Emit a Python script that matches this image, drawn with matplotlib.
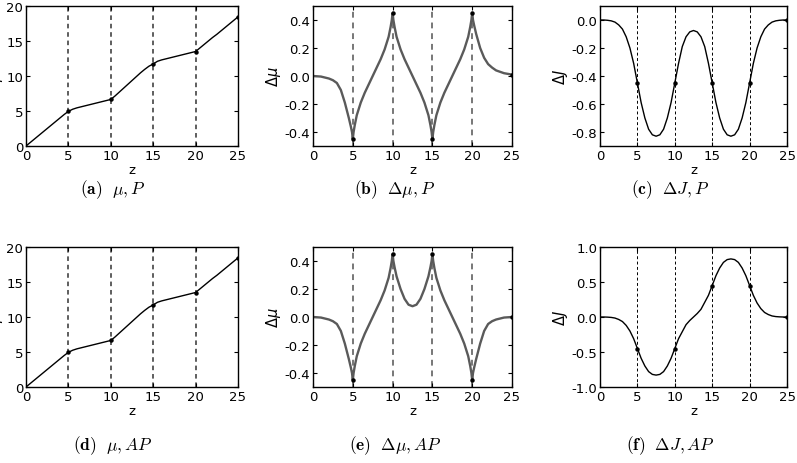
import numpy as np
import matplotlib
matplotlib.use("Agg")
import matplotlib.pyplot as plt

# ---- data ----
# smooth grid (mu and Delta J)
z_s = [0, 0.5, 1, 1.5, 2, 2.5, 3, 3.5, 4, 4.5,
       5, 5.5, 6, 6.5, 7, 7.5, 8, 8.5, 9, 9.5,
       10, 10.5, 11, 11.5, 12, 12.5, 13, 13.5, 14, 14.5,
       15, 15.5, 16, 16.5, 17, 17.5, 18, 18.5, 19, 19.5,
       20, 20.5, 21, 21.5, 22, 22.5, 23, 23.5, 24, 24.5, 25]

mu_P = [0, 0.5, 1.0, 1.5, 2.0, 2.5, 3.0, 3.5, 4.0, 4.5,
        4.95, 5.25, 5.45, 5.6, 5.75, 5.9, 6.05, 6.2, 6.35, 6.5,
        6.65, 7.15, 7.7, 8.25, 8.8, 9.35, 9.9, 10.45, 10.95, 11.4,
        11.72, 12.1, 12.3, 12.45, 12.6, 12.75, 12.9, 13.05, 13.2, 13.35,
        13.5, 14.0, 14.5, 15.0, 15.5, 15.95, 16.45, 16.95, 17.45, 17.95, 18.45]

mu_AP = [0, 0.5, 1.0, 1.5, 2.0, 2.5, 3.0, 3.5, 4.0, 4.5,
         4.95, 5.25, 5.45, 5.6, 5.75, 5.9, 6.05, 6.2, 6.35, 6.5,
         6.65, 7.15, 7.7, 8.25, 8.8, 9.35, 9.9, 10.45, 10.95, 11.4,
         11.72, 12.1, 12.3, 12.45, 12.6, 12.75, 12.9, 13.05, 13.2, 13.35,
         13.5, 14.0, 14.5, 15.0, 15.5, 15.95, 16.45, 16.95, 17.45, 17.95, 18.45]

dJ_P = [0, 0, -0.002, -0.006, -0.015, -0.035, -0.065, -0.12, -0.2, -0.31,
        -0.45, -0.59, -0.7, -0.78, -0.82, -0.83, -0.82, -0.78, -0.7, -0.59,
        -0.45, -0.31, -0.19, -0.12, -0.085, -0.075, -0.085, -0.12, -0.19, -0.31,
        -0.45, -0.59, -0.7, -0.78, -0.82, -0.83, -0.82, -0.78, -0.7, -0.59,
        -0.45, -0.31, -0.2, -0.12, -0.065, -0.035, -0.015, -0.006, -0.002, 0, 0]

dJ_AP = [0, 0, -0.002, -0.006, -0.015, -0.035, -0.065, -0.12, -0.2, -0.31,
         -0.45, -0.59, -0.7, -0.78, -0.82, -0.83, -0.82, -0.78, -0.7, -0.59,
         -0.45, -0.31, -0.21, -0.11, -0.05, 0.0, 0.05, 0.11, 0.21, 0.31,
         0.45, 0.59, 0.7, 0.78, 0.82, 0.83, 0.82, 0.78, 0.7, 0.59,
         0.45, 0.31, 0.2, 0.12, 0.065, 0.035, 0.015, 0.006, 0.002, 0, 0]

# cusp grid (Delta mu)
z_c = [0, 1, 2, 2.5, 3, 3.5, 4, 4.5, 4.75, 4.9,
       5, 5.1, 5.25, 5.5, 6, 6.5, 7, 7.5, 8, 8.5, 9, 9.5, 9.75, 9.9,
       10, 10.1, 10.25, 10.5, 11, 11.5, 12, 12.5, 13, 13.5, 14, 14.5, 14.75, 14.9,
       15, 15.1, 15.25, 15.5, 16, 16.5, 17, 17.5, 18, 18.5, 19, 19.5, 19.75, 19.9,
       20, 20.1, 20.25, 20.5, 21, 21.5, 22, 22.5, 23, 24, 25]

dmu_P = [0, -0.004, -0.018, -0.03, -0.05, -0.1, -0.19, -0.3, -0.36, -0.40,
         -0.45, -0.40, -0.35, -0.28, -0.19, -0.12, -0.06, 0.0, 0.06, 0.12, 0.19, 0.28, 0.35, 0.40,
         0.45, 0.40, 0.35, 0.28, 0.19, 0.12, 0.06, 0.0, -0.06, -0.12, -0.19, -0.28, -0.35, -0.40,
         -0.45, -0.40, -0.35, -0.28, -0.19, -0.12, -0.06, 0.0, 0.06, 0.12, 0.19, 0.28, 0.35, 0.40,
         0.45, 0.40, 0.36, 0.30, 0.20, 0.13, 0.085, 0.06, 0.04, 0.02, 0.01]

dmu_AP = [0, -0.004, -0.018, -0.03, -0.05, -0.1, -0.19, -0.3, -0.36, -0.40,
          -0.45, -0.40, -0.35, -0.28, -0.19, -0.12, -0.06, 0.0, 0.06, 0.12, 0.19, 0.28, 0.35, 0.40,
          0.45, 0.40, 0.355, 0.29, 0.2, 0.13, 0.088, 0.077, 0.088, 0.13, 0.2, 0.29, 0.355, 0.40,
          0.45, 0.40, 0.35, 0.28, 0.19, 0.12, 0.06, 0.0, -0.06, -0.12, -0.19, -0.28, -0.35, -0.40,
          -0.45, -0.40, -0.36, -0.30, -0.19, -0.1, -0.05, -0.03, -0.018, -0.004, 0.0]

z_mark = [5, 10, 15, 20, 25]
z_lines = [5, 10, 15, 20]

captions = [r"$\mathbf{(a)}\ \ \mu, P$", r"$\mathbf{(b)}\ \ \Delta\mu, P$", r"$\mathbf{(c)}\ \ \Delta J, P$",
            r"$\mathbf{(d)}\ \ \mu, AP$", r"$\mathbf{(e)}\ \ \Delta\mu, AP$", r"$\mathbf{(f)}\ \ \Delta J, AP$"]

# ---- figure ----
fig = plt.figure(figsize=(7.97, 4.64), dpi=100)
W, H = 797.0, 464.0

cols = [(26, 212), (313, 199), (600, 187)]  # left, width in px
rows = [7, 248]  # top in px
ax_h = 140

panels = [
    (z_s, mu_P, "mu", r"$\mu$"), (z_c, dmu_P, "dmu", r"$\Delta\mu$"), (z_s, dJ_P, "dJ", r"$\Delta J$"),
    (z_s, mu_AP, "mu", r"$\mu$"), (z_c, dmu_AP, "dmu", r"$\Delta\mu$"), (z_s, dJ_AP, "dJ", r"$\Delta J$"),
]
cap_x = [113, 395, 670]
cap_y = [190, 446]

for i, (z, v, kind, ylab) in enumerate(panels):
    r, c = divmod(i, 3)
    left, width = cols[c]
    top = rows[r]
    ax = fig.add_axes([left / W, 1 - (top + ax_h) / H, width / W, ax_h / H])

    if kind == "mu":
        vcol, vlw, lcol, llw = "#333333", 1.1, "black", 1.0
    elif kind == "dmu":
        vcol, vlw, lcol, llw = "#777777", 1.4, "#5a5a5a", 1.7
    else:
        vcol, vlw, lcol, llw = "black", 0.7, "black", 1.0

    for zl in z_lines:
        ax.axvline(zl, color=vcol, lw=vlw, ls=(0, (3, 2.5)), zorder=1)

    z_arr = np.array(z)
    v_arr = np.array(v)
    ax.plot(z_arr, v_arr, color=lcol, lw=llw, zorder=2)
    m = np.isin(z_arr, z_mark)
    ax.plot(z_arr[m], v_arr[m], ls="none", marker="o", ms=2.2, color="black", zorder=3)

    ax.set_xlim(0, 25)
    ax.set_xticks([0, 5, 10, 15, 20, 25])
    if kind == "mu":
        ax.set_ylim(0, 20)
        ax.set_yticks([0, 5, 10, 15, 20])
    elif kind == "dmu":
        ax.set_ylim(-0.5, 0.5)
        ax.set_yticks([-0.4, -0.2, 0.0, 0.2, 0.4])
        ax.yaxis.set_major_formatter(plt.FormatStrFormatter("%.1f"))
    else:
        if r == 0:
            ax.set_ylim(-0.9, 0.1)
            ax.set_yticks([-0.8, -0.6, -0.4, -0.2, 0.0])
        else:
            ax.set_ylim(-1.0, 1.0)
            ax.set_yticks([-1.0, -0.5, 0.0, 0.5, 1.0])
        ax.yaxis.set_major_formatter(plt.FormatStrFormatter("%.1f"))

    ax.tick_params(direction="in", top=True, right=True, length=3, width=0.8,
                   labelsize=9.5, pad=2)
    for s in ax.spines.values():
        s.set_linewidth(1.0)
    ax.set_xlabel("z", fontsize=9.5, labelpad=1)
    ax.set_ylabel(ylab, fontsize=10.5, labelpad=1)

    fig.text(cap_x[c] / W, 1 - cap_y[r] / H, captions[i], ha="center", va="center",
             fontsize=12.5, math_fontfamily="cm")

fig.savefig("out.png", dpi=100)
